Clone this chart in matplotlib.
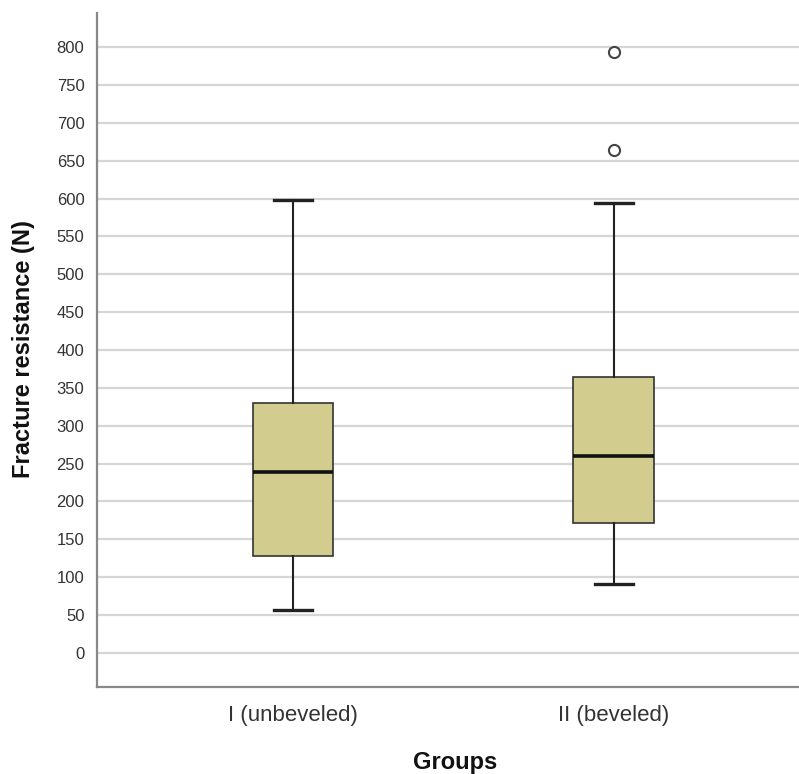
import matplotlib
matplotlib.use("Agg")
import matplotlib.pyplot as plt

categories = ["I (unbeveled)", "II (beveled)"]
whislo = [57, 91]
q1 = [128, 172]
med = [239, 260]
q3 = [330, 364]
whishi = [598, 594]
fliers = [[], [664, 793]]
yticks = list(range(0, 801, 50))

plt.rcParams['font.family'] = ['Liberation Sans', 'DejaVu Sans']

fig = plt.figure(figsize=(7.99, 7.74), dpi=100)
ax = fig.add_axes([0.1214, 0.1124, 0.8786, 0.8708])

stats = []
for i, c in enumerate(categories):
    stats.append(dict(label=c, whislo=whislo[i], q1=q1[i], med=med[i], q3=q3[i],
                      whishi=whishi[i], fliers=fliers[i]))

ax.bxp(stats, positions=[0, 1], widths=0.252, patch_artist=True, showfliers=True,
       boxprops=dict(facecolor="#D2CC8E", edgecolor="#333333", linewidth=1.2),
       medianprops=dict(color="#111111", linewidth=2.6),
       whiskerprops=dict(color="#222222", linewidth=1.5),
       capprops=dict(color="#222222", linewidth=2.4),
       capwidths=0.12,
       flierprops=dict(marker="o", markerfacecolor="white", markeredgecolor="#444444",
                       markersize=8, markeredgewidth=1.5),
       zorder=3)

ax.set_xlim(-0.611, 1.577)
ax.set_ylim(-45, 845)
ax.set_yticks(yticks)
ax.yaxis.grid(True, color="#d6d6d6", linewidth=1.6, zorder=0)
ax.set_axisbelow(True)
ax.tick_params(axis='both', length=0, labelcolor="#333333")
ax.tick_params(axis='y', labelsize=12, pad=9)
ax.tick_params(axis='x', labelsize=16, pad=13)
for s in ["top", "right"]:
    ax.spines[s].set_visible(False)
for s in ["left", "bottom"]:
    ax.spines[s].set_color("#888888")
    ax.spines[s].set_linewidth(1.6)

fig.text(24 / 799, 1 - 349 / 774, "Fracture resistance (N)", rotation=90,
         fontsize=17, fontweight="bold", color="#111111", ha="center", va="center")
fig.text(455 / 799, 1 - 762 / 774, "Groups",
         fontsize=17, fontweight="bold", color="#111111", ha="center", va="center")

fig.savefig("out.png", dpi=100)
